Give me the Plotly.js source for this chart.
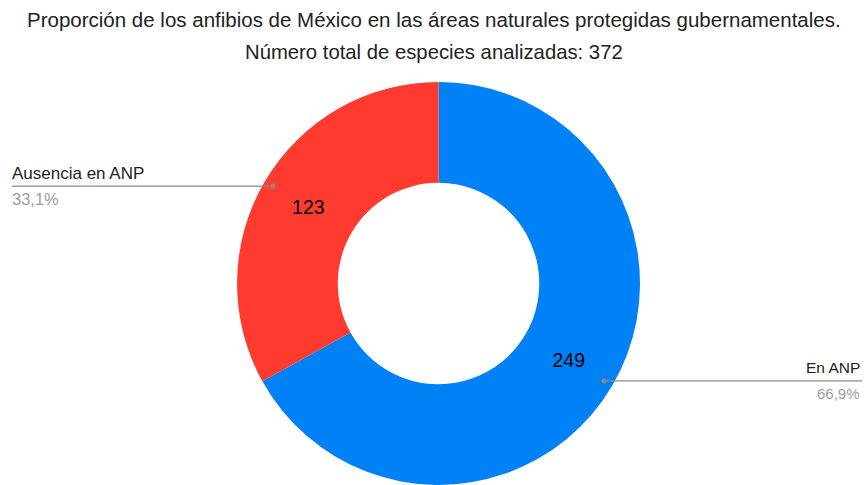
<!DOCTYPE html>
<html>
<head>
<meta charset="utf-8">
<script src="https://cdn.plot.ly/plotly-3.0.1.min.js"></script>
<style>html,body{margin:0;padding:0;background:#fff;}#chart{width:867px;height:485px;}</style>
</head>
<body>
<div id="chart"></div>
<script>
const titleLine1 = "Proporción de los anfibios de México en las áreas naturales protegidas gubernamentales.";
const titleLine2 = "Número total de especies analizadas: 372";
const categories = ["En ANP", "Ausencia en ANP"];
const values = [249, 123];
const colors = ["#0081f6", "#ff3b30"];

const W = 867, H = 485;
const domX = [0.2734, 0.7382];
const domY = [0, 0.8309];
const total = values.reduce((a, b) => a + b, 0);

const cx = (domX[0] + domX[1]) / 2 * W;
const cy = H - (domY[0] + domY[1]) / 2 * H;
const R = (domY[1] - domY[0]) * H / 2;
const FONT = 'Liberation Sans, Arial, sans-serif';

const shapes = [];
const annotations = [
  {text: titleLine1, x: 0.5, y: 1 - 20 / H, xref: 'paper', yref: 'paper', xanchor: 'center', yanchor: 'middle', showarrow: false,
   font: {family: FONT, size: 20.5, color: '#222'}},
  {text: titleLine2, x: 0.5, y: 1 - 52 / H, xref: 'paper', yref: 'paper', xanchor: 'center', yanchor: 'middle', showarrow: false,
   font: {family: FONT, size: 20.3, color: '#222'}}
];

let cum = 0;
values.forEach((v, i) => {
  const mid = (cum + v / 2) / total * 2 * Math.PI; // clockwise from top
  cum += v;
  const px = cx + 0.953 * R * Math.sin(mid);
  const py = cy - 0.953 * R * Math.cos(mid);
  const right = Math.sin(mid) > 0;
  const lineEnd = right ? 862 : 12;
  const textX = right ? 862 : 10;
  const pct = (v / total * 100).toFixed(1).replace('.', ',') + '%';
  shapes.push({type: 'line', xref: 'paper', yref: 'paper', x0: px / W, x1: lineEnd / W, y0: 1 - py / H, y1: 1 - py / H,
    line: {color: '#8a8a8a', width: 1.3}});
  shapes.push({type: 'circle', xref: 'paper', yref: 'paper', x0: (px - 2.5) / W, x1: (px + 2.5) / W, y0: 1 - (py + 2.5) / H, y1: 1 - (py - 2.5) / H,
    fillcolor: '#8a8a8a', line: {width: 0}});
  annotations.push({text: categories[i], x: textX / W, y: 1 - (py - 13) / H, xref: 'paper', yref: 'paper',
    xanchor: right ? 'right' : 'left', yanchor: 'middle', showarrow: false,
    font: {family: FONT, size: right ? 15.5 : 17, color: '#222'}});
  annotations.push({text: pct, x: textX / W, y: 1 - (py + 13) / H, xref: 'paper', yref: 'paper',
    xanchor: right ? 'right' : 'left', yanchor: 'middle', showarrow: false,
    font: {family: FONT, size: right ? 15 : 16.5, color: '#9e9e9e'}});
});

const data = [{
  type: 'pie',
  labels: categories,
  values: values,
  hole: 0.5,
  sort: false,
  direction: 'clockwise',
  rotation: 0,
  marker: {colors: colors, line: {width: 0}},
  textinfo: 'value',
  textposition: 'inside',
  insidetextorientation: 'horizontal',
  textfont: {family: FONT, size: 19.5, color: '#000'},
  domain: {x: domX, y: domY},
  showlegend: false,
  hoverinfo: 'label+value+percent'
}];

const layout = {
  width: W, height: H,
  margin: {l: 0, r: 0, t: 0, b: 0},
  paper_bgcolor: '#fff',
  showlegend: false,
  shapes: shapes,
  annotations: annotations
};

Plotly.newPlot('chart', data, layout, {displayModeBar: false, staticPlot: true});
</script>
</body>
</html>
